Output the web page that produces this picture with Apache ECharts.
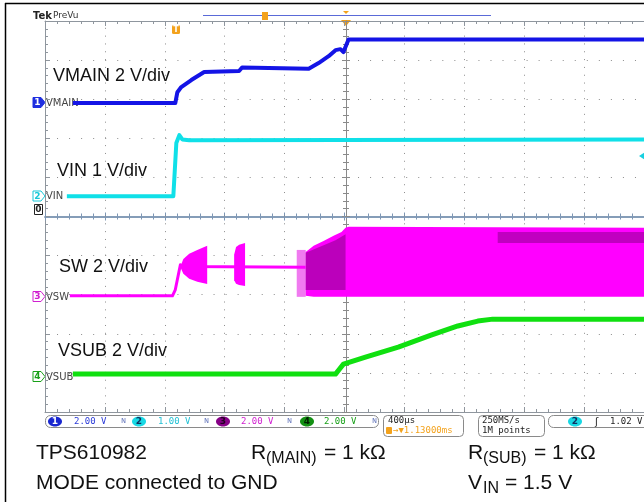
<!DOCTYPE html>
<html>
<head>
<meta charset="utf-8">
<script src="https://cdn.jsdelivr.net/npm/echarts@6.0.0/dist/echarts.min.js"></script>
<style>
html, body { margin: 0; padding: 0; background: #fff; }
#scope { width: 644px; height: 502px; }
</style>
</head>
<body>
<div id="scope"></div>
<script>
// time in µs from screen centre (400 µs/div), values in volts
const vmainPts = [[-1814, 0], [-1130, 0], [-1116, 0.56], [-1090, 0.82], [-1023, 1.18], [-937, 1.59],
  [-704, 1.64], [-684, 1.82], [-239, 1.76], [-173, 2.05], [-106, 2.40], [-60, 2.71], [-27, 2.76],
  [-7, 2.61], [27, 3.25], [2000, 3.25]];
const vinPts = [[-1854, 0], [-1143, 0], [-1123, 1.36], [-1103, 1.56], [-1083, 1.45], [-1037, 1.43], [2000, 1.45]];
const swPts = [[-1834, 0], [-1149, 0], [-1130, 0.31], [-1096, 1.59], [-1070, 1.50], [-259, 1.47]];
const vsubPts = [[-1814, 0], [-60, 0], [-33, 0.26], [-7, 0.51], [140, 0.87], [359, 1.38], [578, 1.99],
  [757, 2.46], [890, 2.71], [990, 2.81], [2000, 2.81]];

// SW switching bursts: [t, upper envelope, lower envelope]
const swBurst1 = [[-1096, 1.50, 1.46], [-1076, 1.89, 1.13], [-1037, 2.15, 0.87], [-983, 2.35, 0.72], [-917, 2.56, 0.61]];
const swBurst2 = [[-737, 2.10, 0.80], [-724, 2.50, 0.62], [-704, 2.61, 0.56], [-664, 2.71, 0.51]];
const swPulses = [[-319, 2.35, -0.05], [-259, 2.35, -0.05]];
const swBurst3 = [[-259, 2.25, 0], [-206, 2.56, -0.05], [-140, 2.81, -0.05], [-73, 3.07, -0.05],
  [-20, 3.27, -0.05], [7, 3.48, -0.05], [27, 3.53, -0.05], [2000, 3.48, -0.05]];
const swDense1 = [[-259, 2.20, 0.30], [-60, 2.85, 0.30], [7, 3.15, 0.30]];
const swDense2 = [[1023, 3.27, 2.71], [2000, 3.27, 2.71]];

// graticule division lines (time in µs, vertical in div)
const timeDivs = [-1600, -1200, -800, -400, 400, 800, 1200, 1600];
const vertDivs = [-4, -3, -2, -1, 1, 2, 3, 4];

// channel scale (V/div) and ground position (div from centre)
const CH = {
  vmain: { scale: 2, pos: 2.90 },
  vin: { scale: 1, pos: 0.52 },
  sw: { scale: 2, pos: -2.03 },
  vsub: { scale: 2, pos: -4.03 }
};
const toDiv = (v, ch) => ch.pos + v / ch.scale;

const EDGE_C = '#8f969e';
const DOT_C = '#8c8c8c';
const CENTER_C = '#7d96b4';
const ORANGE = '#f3a21c';

function trace(name, pts, ch, color, width) {
  return {
    type: 'line', name: name, silent: true, showSymbol: false, symbol: 'none',
    data: pts.map(p => [p[0], toDiv(p[1], ch)]),
    lineStyle: { color: color, width: width, join: 'round' },
    itemStyle: { color: color }
  };
}
function band(name, pts, ch, color) {
  return {
    type: 'custom', name: name, silent: true, data: [0], clip: true,
    renderItem: function (params, api) {
      const up = pts.map(p => api.coord([p[0], toDiv(p[1], ch)]));
      const lo = pts.slice().reverse().map(p => api.coord([p[0], toDiv(p[2], ch)]));
      return { type: 'polygon', shape: { points: up.concat(lo) }, style: { fill: color } };
    }
  };
}

// dotted graticule, drawn as mark lines under the traces
const graticule = {
  silent: true, z: 1, symbol: ['none', 'none'], animation: false,
  label: { show: false }, emphasis: { disabled: true },
  data: timeDivs.map(t => ({ xAxis: t, lineStyle: { color: DOT_C, width: 1, type: [1, 6.82] } }))
    .concat(vertDivs.map(d => ({ yAxis: d, lineStyle: { color: DOT_C, width: 1, type: [1, 11.04] } })))
};

function xAx(extra) {
  return Object.assign({
    type: 'value', min: -2000, max: 2000, interval: 400,
    axisLabel: { show: false }, splitLine: { show: false }
  }, extra);
}
function yAx(extra) {
  return Object.assign({
    type: 'value', min: -5, max: 5, interval: 1,
    axisLabel: { show: false }, splitLine: { show: false }
  }, extra);
}

const chart = echarts.init(document.getElementById('scope'));

const txt = (x, y, text, font, fill, align) => ({
  type: 'text', x: x, y: y, silent: true,
  style: { text: text, font: font, fill: fill, textAlign: align || 'left', textVerticalAlign: 'middle' }
});

function chMarker(y, num, color, filled, label) {
  return [
    { type: 'polygon', shape: { points: [[33, y - 5], [41, y - 5], [45, y], [41, y + 5], [33, y + 5]] },
      style: { fill: filled ? color : '#fff', stroke: color, lineWidth: 1 } },
    txt(37.5, y + 0.5, num, 'bold 9px "DejaVu Sans"', filled ? '#fff' : color, 'center'),
    txt(46, y + 0.5, label, '10px "DejaVu Sans"', '#444')
  ];
}

const bigFont = '21px "Liberation Sans", Arial, sans-serif';
const subFont = '16px "Liberation Sans", Arial, sans-serif';
const lblFont = '18px "Liberation Sans", Arial, sans-serif';
const monoFont = '9px "DejaVu Sans Mono", monospace';

const graphics = [
  // outer frame
  { type: 'line', silent: true, shape: { x1: 5.5, y1: 3, x2: 5.5, y2: 502 }, style: { stroke: '#000', lineWidth: 1.5 } },
  { type: 'line', silent: true, shape: { x1: 5, y1: 3.5, x2: 644, y2: 3.5 }, style: { stroke: '#000', lineWidth: 1.5 } },
  // header
  txt(33, 16, 'Tek', 'bold 10px "DejaVu Sans"', '#222'),
  txt(53, 16, 'PreVu', '9px "DejaVu Sans"', '#333'),
  { type: 'line', silent: true, shape: { x1: 203, y1: 15.5, x2: 491, y2: 15.5 }, style: { stroke: '#5a6ad8', lineWidth: 1 } },
  { type: 'rect', silent: true, shape: { x: 262, y: 12, width: 6, height: 8 }, style: { fill: ORANGE } },
  { type: 'polygon', silent: true, shape: { points: [[343, 11], [349, 11], [346, 14]] }, style: { fill: ORANGE } },
  { type: 'polygon', silent: true, shape: { points: [[341, 20], [351, 20], [346, 26]] }, style: { fill: ORANGE } },
  { type: 'rect', silent: true, shape: { x: 172, y: 25, width: 8, height: 9, r: 1.5 }, style: { fill: ORANGE } },
  txt(176, 29.5, 'T', 'bold 8px "DejaVu Sans"', '#fff', 'center'),
  // trace labels
  txt(53, 76.5, 'VMAIN 2 V/div', lblFont, '#111'),
  txt(57, 171.5, 'VIN 1 V/div', lblFont, '#111'),
  txt(59, 267, 'SW 2 V/div', lblFont, '#111'),
  txt(58, 351, 'VSUB 2 V/div', lblFont, '#111'),
  // channel ground markers
  ...chMarker(102.5, '1', '#1f2fe0', true, 'VMAIN'),
  ...chMarker(196, '2', '#18c8d8', false, 'VIN'),
  ...chMarker(296.5, '3', '#d020d0', false, 'VSW'),
  ...chMarker(376.5, '4', '#18a018', false, 'VSUB'),
  { type: 'rect', silent: true, shape: { x: 34.5, y: 204.5, width: 8, height: 10 }, style: { fill: '#fff', stroke: '#222', lineWidth: 1 } },
  txt(38.5, 210, '0', 'bold 9px "DejaVu Sans"', '#222', 'center'),
  // trigger level arrow
  { type: 'polygon', silent: true, shape: { points: [[639, 156], [645, 152], [645, 160]] }, style: { fill: '#18d0e0' } },
  // status bar
  { type: 'rect', silent: true, shape: { x: 45.5, y: 415.5, width: 333, height: 12, r: 5 }, style: { fill: '#fff', stroke: '#8a8a8a', lineWidth: 1 } },
  { type: 'ellipse', silent: true, shape: { cx: 55, cy: 421.5, rx: 7, ry: 5 }, style: { fill: '#1a28d0' } },
  txt(55, 422, '1', 'bold 9px "DejaVu Sans"', '#fff', 'center'),
  txt(74, 422, '2.00 V', monoFont, '#2a3ad8'),
  txt(121, 421, 'ɴ', '8px "DejaVu Sans"', '#7080c0'),
  { type: 'ellipse', silent: true, shape: { cx: 139, cy: 421.5, rx: 7, ry: 5 }, style: { fill: '#18d8e4' } },
  txt(139, 422, '2', 'bold 9px "DejaVu Sans"', '#103060', 'center'),
  txt(158, 422, '1.00 V', monoFont, '#20c0d4'),
  txt(204, 421, 'ɴ', '8px "DejaVu Sans"', '#7080c0'),
  { type: 'ellipse', silent: true, shape: { cx: 223, cy: 421.5, rx: 7, ry: 5 }, style: { fill: '#860086' } },
  txt(223, 422, '3', 'bold 9px "DejaVu Sans"', '#200020', 'center'),
  txt(241, 422, '2.00 V', monoFont, '#d020d0'),
  txt(287, 421, 'ɴ', '8px "DejaVu Sans"', '#7080c0'),
  { type: 'ellipse', silent: true, shape: { cx: 307, cy: 421.5, rx: 7, ry: 5 }, style: { fill: '#139013' } },
  txt(307, 422, '4', 'bold 9px "DejaVu Sans"', '#002000', 'center'),
  txt(324, 422, '2.00 V', monoFont, '#18a018'),
  txt(372, 421, 'ɴ', '8px "DejaVu Sans"', '#7080c0'),
  { type: 'rect', silent: true, shape: { x: 383.5, y: 415.5, width: 80, height: 21, r: 4 }, style: { fill: '#fff', stroke: '#8a8a8a', lineWidth: 1 } },
  txt(388, 421, '400µs', monoFont, '#222'),
  { type: 'rect', silent: true, shape: { x: 386, y: 427, width: 6, height: 7, r: 1 }, style: { fill: ORANGE } },
  txt(393, 431, '→▼1.13000ms', monoFont, ORANGE),
  { type: 'rect', silent: true, shape: { x: 478.5, y: 415.5, width: 66, height: 21, r: 4 }, style: { fill: '#fff', stroke: '#8a8a8a', lineWidth: 1 } },
  txt(482, 421, '250MS/s', monoFont, '#222'),
  txt(482, 431, '1M points', monoFont, '#222'),
  { type: 'rect', silent: true, shape: { x: 548.5, y: 415.5, width: 110, height: 12, r: 5 }, style: { fill: '#fff', stroke: '#8a8a8a', lineWidth: 1 } },
  { type: 'ellipse', silent: true, shape: { cx: 575, cy: 421.5, rx: 7, ry: 5 }, style: { fill: '#18d8e4' } },
  txt(575, 422, '2', 'bold 9px "DejaVu Sans"', '#103060', 'center'),
  txt(595, 422, 'ʃ', '10px "DejaVu Sans"', '#222'),
  txt(610, 422, '1.02 V', monoFont, '#222'),
  // caption
  txt(36, 453.5, 'TPS610982', bigFont, '#111'),
  txt(36, 483.5, 'MODE connected to GND', bigFont, '#111'),
  txt(251, 453.5, 'R', bigFont, '#111'),
  txt(266, 458.5, '(MAIN)', subFont, '#111'),
  txt(324, 453.5, '= 1 kΩ', bigFont, '#111'),
  txt(468, 453.5, 'R', bigFont, '#111'),
  txt(483, 458.5, '(SUB)', subFont, '#111'),
  txt(534, 453.5, '= 1 kΩ', bigFont, '#111'),
  txt(468, 483.5, 'V', bigFont, '#111'),
  txt(483, 488.5, 'IN', subFont, '#111'),
  txt(505, 483.5, '= 1.5 V', bigFont, '#111')
];

const tickStyle = c => ({ lineStyle: { color: c, width: 1 } });

const vmainSeries = trace('VMAIN', vmainPts, CH.vmain, '#1414e6', 4);
vmainSeries.markLine = graticule;

chart.setOption({
  animation: false,
  backgroundColor: '#fff',
  grid: { left: 45, right: -3, top: 21, bottom: 90, containLabel: false },
  xAxis: [
    // bottom edge
    xAx({ position: 'bottom',
      axisLine: { onZero: false, lineStyle: { color: EDGE_C, width: 1 } },
      axisTick: Object.assign({ inside: true, length: 5 }, tickStyle(EDGE_C)),
      minorTick: Object.assign({ show: true, splitNumber: 5, length: 3 }, tickStyle(EDGE_C)) }),
    // top edge
    xAx({ position: 'top',
      axisLine: { onZero: false, lineStyle: { color: EDGE_C, width: 1 } },
      axisTick: Object.assign({ inside: true, length: 5 }, tickStyle(EDGE_C)),
      minorTick: Object.assign({ show: true, splitNumber: 5, length: 3 }, tickStyle(EDGE_C)) }),
    // horizontal centre line, ticks on both sides
    xAx({ position: 'bottom', offset: -195.5,
      axisLine: { onZero: false, lineStyle: { color: CENTER_C, width: 1.5 } },
      axisTick: Object.assign({ inside: true, length: 4 }, tickStyle(CENTER_C)),
      minorTick: Object.assign({ show: true, splitNumber: 5, length: 3 }, tickStyle(CENTER_C)) }),
    xAx({ position: 'bottom', offset: -195.5,
      axisLine: { onZero: false, lineStyle: { color: CENTER_C, width: 1.5 } },
      axisTick: Object.assign({ inside: false, length: 4 }, tickStyle(CENTER_C)),
      minorTick: Object.assign({ show: true, splitNumber: 5, length: 3 }, tickStyle(CENTER_C)) })
  ],
  yAxis: [
    // left edge
    yAx({ position: 'left',
      axisLine: { onZero: false, lineStyle: { color: EDGE_C, width: 1 } },
      axisTick: Object.assign({ inside: true, length: 5 }, tickStyle(EDGE_C)),
      minorTick: Object.assign({ show: true, splitNumber: 5, length: 3 }, tickStyle(EDGE_C)) }),
    // vertical centre line, ticks on both sides
    yAx({ position: 'left', offset: -301,
      axisLine: { onZero: false, lineStyle: { color: '#8a8a8a', width: 1 } },
      axisTick: Object.assign({ inside: true, length: 4 }, tickStyle('#8a8a8a')),
      minorTick: Object.assign({ show: true, splitNumber: 5, length: 3 }, tickStyle('#8a8a8a')) }),
    yAx({ position: 'left', offset: -301,
      axisLine: { onZero: false, lineStyle: { color: '#8a8a8a', width: 1 } },
      axisTick: Object.assign({ inside: false, length: 4 }, tickStyle('#8a8a8a')),
      minorTick: Object.assign({ show: true, splitNumber: 5, length: 3 }, tickStyle('#8a8a8a')) })
  ],
  series: [
    vmainSeries,
    trace('VIN', vinPts, CH.vin, '#10e0e8', 4),
    band('SW pulses', swPulses, CH.sw, '#f07af0'),
    band('SW burst 1', swBurst1, CH.sw, '#ff00ff'),
    band('SW burst 2', swBurst2, CH.sw, '#ff00ff'),
    band('SW burst 3', swBurst3, CH.sw, '#ff00ff'),
    band('SW dense 1', swDense1, CH.sw, 'rgba(150,0,150,0.65)'),
    band('SW dense 2', swDense2, CH.sw, 'rgba(150,0,150,0.6)'),
    trace('SW', swPts, CH.sw, '#ff00ff', 3),
    trace('VSUB', vsubPts, CH.vsub, '#10e010', 5)
  ],
  graphic: graphics
});
</script>
</body>
</html>
